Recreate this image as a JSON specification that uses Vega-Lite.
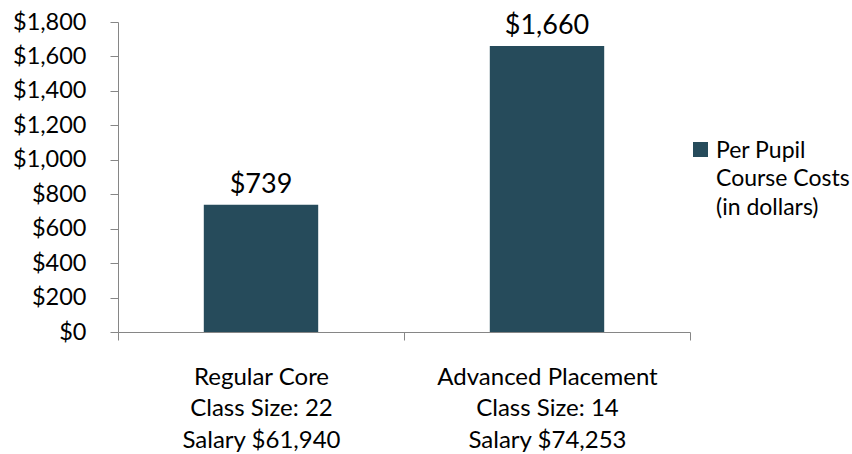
{
  "$schema": "https://vega.github.io/schema/vega-lite/v6.json",
  "width": 572,
  "height": 310,
  "autosize": {"type": "none"},
  "padding": {"left": 118, "top": 22, "right": 162, "bottom": 122},
  "background": "white",
  "data": {
    "values": [
      {"course": "Regular Core|Class Size: 22|Salary $61,940", "cost": 739, "series": "Per Pupil|Course Costs|(in dollars)"},
      {"course": "Advanced Placement|Class Size: 14|Salary $74,253", "cost": 1660, "series": "Per Pupil|Course Costs|(in dollars)"}
    ]
  },
  "encoding": {
    "x": {
      "field": "course",
      "type": "nominal",
      "sort": null,
      "scale": {"paddingInner": 0, "paddingOuter": 0},
      "axis": {
        "title": null,
        "labelAngle": 0,
        "labelExpr": "split(datum.label, '|')",
        "labelLineHeight": 31.5,
        "labelBaseline": "top",
        "labelPadding": 25,
        "labelFontSize": 24,
        "labelLimit": 300,
        "tickBand": "extent",
        "tickSize": 8,
        "domainColor": "#868686",
        "tickColor": "#868686"
      }
    },
    "y": {
      "field": "cost",
      "type": "quantitative",
      "scale": {"domain": [0, 1800], "nice": false},
      "axis": {
        "title": null,
        "values": [0, 200, 400, 600, 800, 1000, 1200, 1400, 1600, 1800],
        "format": "$,.0f",
        "grid": false,
        "tickSize": 8,
        "labelPadding": 24,
        "labelFontSize": 23.5,
        "domainColor": "#868686",
        "tickColor": "#868686"
      }
    }
  },
  "layer": [
    {
      "mark": {"type": "bar", "width": {"band": 0.4}, "color": "#264B5B"},
      "encoding": {
        "color": {
          "field": "series",
          "type": "nominal",
          "scale": {"range": ["#264B5B"]},
          "legend": {
            "title": null,
            "orient": "none",
            "legendX": 571,
            "legendY": 116,
            "symbolType": "square",
            "symbolSize": 225,
            "symbolStrokeWidth": 0,
            "labelExpr": "split(datum.label, '|')",
            "labelFontSize": 23,
            "labelOffset": 4,
            "labelLimit": 300,
            "labelBaseline": "top",
            "encode": {"labels": {"update": {"dy": {"value": -10}}}}
          }
        }
      }
    },
    {
      "mark": {"type": "text", "baseline": "alphabetic", "dy": -12, "fontSize": 27, "color": "#000000", "font": "Lato"},
      "encoding": {
        "text": {"field": "cost", "type": "quantitative", "format": "$,.0f"}
      }
    }
  ],
  "config": {
    "font": "Lato",
    "view": {"stroke": null},
    "axis": {"labelColor": "#000000", "labelFont": "Lato"},
    "legend": {"labelColor": "#000000", "labelFont": "Lato"},
    "style": {"guide-label": {"lineHeight": 28.5}}
  }
}
